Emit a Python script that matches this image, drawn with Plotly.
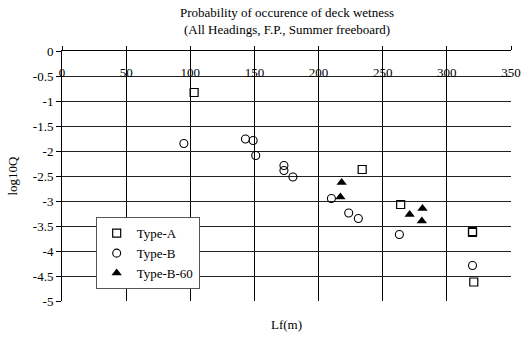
import plotly.graph_objects as go

# Data (Lf in m, log10Q)
typeA_x = [103, 234, 264, 320, 320, 321]
typeA_y = [-0.83, -2.37, -3.07, -3.61, -3.63, -4.62]

typeB_x = [95, 143, 149, 151, 173, 173, 180, 210, 223.5, 231, 263, 320]
typeB_y = [-1.85, -1.76, -1.79, -2.09, -2.29, -2.39, -2.52, -2.95, -3.24, -3.35, -3.67, -4.29]

typeB60_x = [218, 217, 271, 281, 280.5]
typeB60_y = [-2.63, -2.92, -3.27, -3.15, -3.40]

x_ticks = [0, 50, 100, 150, 200, 250, 300, 350]
y_ticks = [0, -0.5, -1, -1.5, -2, -2.5, -3, -3.5, -4, -4.5, -5]
y_tick_labels = ["0", "-0.5", "-1", "-1.5", "-2", "-2.5", "-3", "-3.5", "-4", "-4.5", "-5"]

title_text = "Probability of occurence of deck wetness<br>(All Headings, F.P., Summer freeboard)"
x_title = "Lf(m)"
y_title = "log10Q"

FONT = "Liberation Serif"
W, H = 522, 338
ML, MR, MT, MB = 62, 11, 51, 37
PH = H - MT - MB

fig = go.Figure()
fig.add_trace(go.Scatter(x=typeA_x, y=typeA_y, mode="markers", name="Type-A",
                         marker=dict(symbol="square-open", size=8, color="black",
                                     line=dict(width=1.2, color="black"))))
fig.add_trace(go.Scatter(x=typeB_x, y=typeB_y, mode="markers", name="Type-B",
                         marker=dict(symbol="circle-open", size=8, color="black",
                                     line=dict(width=1.1, color="black"))))
fig.add_trace(go.Scatter(x=typeB60_x, y=typeB60_y, mode="markers", name="Type-B-60",
                         marker=dict(symbol="triangle-up", size=9, color="black")))

fig.update_layout(
    width=W, height=H,
    margin=dict(l=ML, r=MR, t=MT, b=MB, autoexpand=False),
    paper_bgcolor="white", plot_bgcolor="white",
    font=dict(family=FONT, size=13, color="black"),
    xaxis=dict(range=[0, 350], tickvals=x_ticks, side="top", automargin=False,
               showline=True, linecolor="black", linewidth=1,
               ticks="outside", ticklen=4, tickcolor="black",
               showticklabels=False,
               showgrid=True, gridcolor="black", gridwidth=1, zeroline=False),
    xaxis2=dict(range=[0, 350], tickvals=x_ticks, overlaying="x", anchor="free",
                position=1, side="bottom", showline=False, showgrid=False, automargin=False,
                ticks="", showticklabels=True, ticklabelstandoff=12, zeroline=False,
                tickfont=dict(family=FONT, size=13, color="black")),
    yaxis=dict(range=[-5, 0], tickvals=y_ticks, ticktext=y_tick_labels, automargin=False,
               showline=True, linecolor="black", linewidth=1,
               ticks="outside", ticklen=5, tickcolor="black",
               showgrid=True, gridcolor="#222", gridwidth=1, zeroline=False,
               title=dict(text=y_title, standoff=12, font=dict(family=FONT, size=13))),
    legend=dict(x=0.075, y=0.335, xanchor="left", yanchor="top",
                bgcolor="white", bordercolor="#555", borderwidth=1,
                font=dict(family=FONT, size=13), itemwidth=30,
                tracegroupgap=0),
    showlegend=True,
)
# invisible helper trace so the label axis is drawn
fig.add_trace(go.Scatter(x=[0], y=[0], xaxis="x2", mode="markers", showlegend=False,
                         marker=dict(opacity=0), hoverinfo="skip"))
fig.add_annotation(text=title_text, xref="paper", yref="paper", x=0.5, xanchor="center",
                   y=1 + (MT - 3) / PH, yanchor="top", showarrow=False,
                   font=dict(family=FONT, size=13))
fig.add_annotation(text=x_title, xref="paper", yref="paper", x=0.5, y=-(14 / PH),
                   showarrow=False, yanchor="top", font=dict(family=FONT, size=13))

fig.write_html("out.html", config={"displayModeBar": False},
               post_script="document.body.style.margin='0';")
